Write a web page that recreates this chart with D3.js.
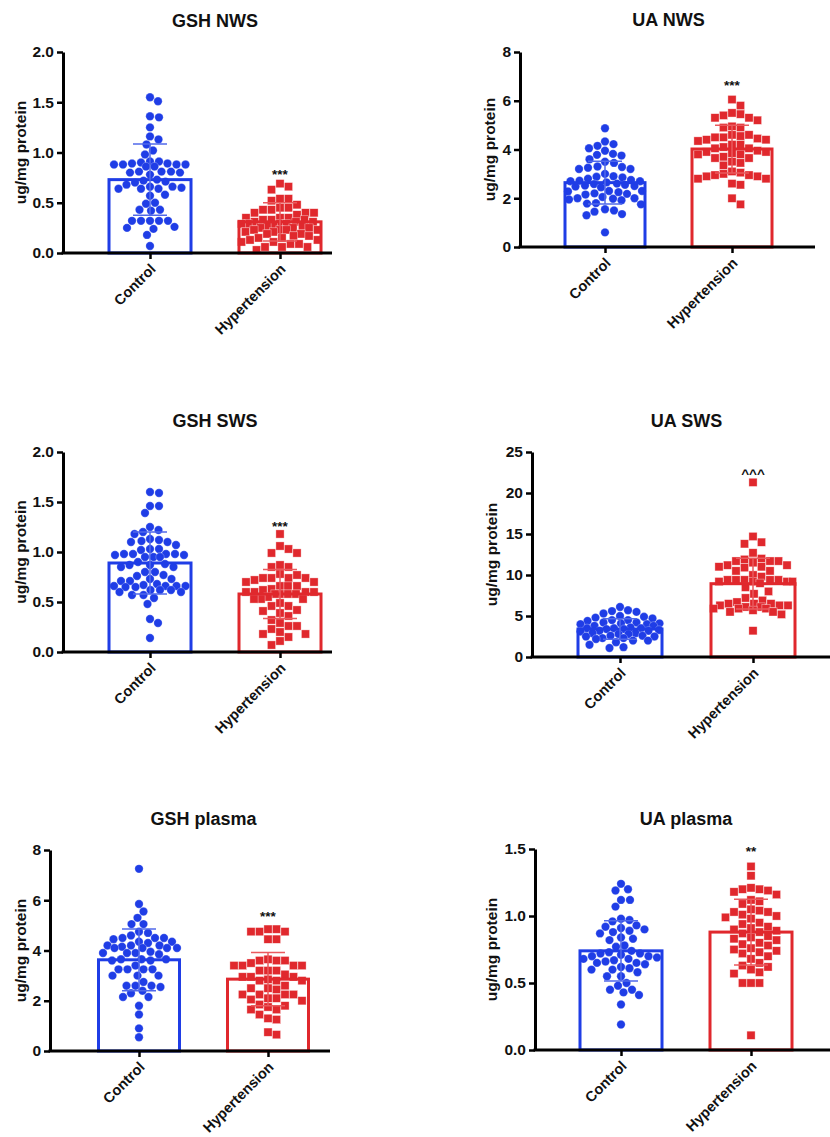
<!DOCTYPE html>
<html><head><meta charset="utf-8">
<script src="https://cdn.jsdelivr.net/npm/d3@7"></script>
<style>
body{margin:0;background:#fff}
svg{display:block}
text{font-family:"Liberation Sans", Arial, Helvetica, sans-serif;}
</style>
</head><body>
<svg id="chart" width="830" height="1137"></svg>
<script>
const categories = ["Control", "Hypertension"];
const titles = ["GSH NWS", "UA NWS", "GSH SWS", "UA SWS", "GSH plasma", "UA plasma"];
const yAxisLabel = "ug/mg protein";
const yTicks = [[0,0.5,1,1.5,2],[0,2,4,6,8],[0,0.5,1,1.5,2],[0,5,10,15,20,25],[0,2,4,6,8],[0,0.5,1,1.5]];
const tickDecimals = [1,0,1,0,0,1];
const means = [[0.73,0.31],[2.64,4.02],[0.89,0.58],[3.41,8.94],[3.63,2.86],[0.74,0.88]];
const sds = [[0.355,0.19],[0.88,0.98],[0.31,0.246],[1.26,3.1],[1.23,1.06],[0.225,0.245]];
const sigLabels = ["***","***","***","^^^","***","**"];
const sigValues = [0.81, 6.73, 1.29, 22.8, 5.49, 1.507];

const gshNwsControl = [1.55,1.51,1.36,1.35,1.25,1.16,1.13,1.08,1.02,0.98,0.91,0.91,0.90,0.89,0.89,0.88,0.88,0.88,0.88,0.86,0.86,0.81,0.81,0.81,0.80,0.80,0.78,0.73,0.72,0.71,0.70,0.68,0.66,0.66,0.65,0.64,0.64,0.64,0.58,0.57,0.50,0.49,0.43,0.43,0.42,0.32,0.32,0.32,0.32,0.32,0.26,0.25,0.24,0.18,0.07];
const gshNwsHyp = [0.69,0.66,0.63,0.54,0.54,0.52,0.48,0.45,0.45,0.43,0.43,0.40,0.40,0.40,0.38,0.35,0.35,0.35,0.33,0.33,0.33,0.31,0.31,0.31,0.29,0.29,0.29,0.29,0.27,0.27,0.27,0.25,0.25,0.25,0.23,0.23,0.23,0.23,0.21,0.21,0.19,0.19,0.17,0.17,0.15,0.15,0.13,0.13,0.11,0.11,0.09,0.09,0.06,0.06,0.06,0.03];
const uaNwsControl = [4.87,4.33,4.22,4.15,4.05,3.95,3.82,3.78,3.75,3.6,3.5,3.45,3.3,3.28,3.25,3.2,3.2,3.0,2.9,2.88,2.85,2.8,2.75,2.72,2.7,2.7,2.65,2.6,2.58,2.55,2.52,2.5,2.48,2.45,2.3,2.3,2.28,2.25,2.2,2.18,2.15,2.05,2.0,2.0,1.98,1.95,1.92,1.8,1.78,1.75,1.55,1.5,1.45,1.35,1.3,0.6];
const uaNwsHyp = [6.05,5.8,5.5,5.45,5.4,5.3,5.3,5.2,4.95,4.9,4.9,4.6,4.6,4.55,4.5,4.5,4.45,4.4,4.4,4.35,4.2,4.2,4.1,4.05,4.05,3.95,3.9,3.9,3.85,3.8,3.8,3.7,3.65,3.65,3.5,3.45,3.35,3.1,3.05,3.0,2.95,2.95,2.9,2.9,2.8,2.8,2.6,2.55,2.0,1.75];
const gshSwsControl = [1.60,1.59,1.46,1.46,1.39,1.25,1.22,1.20,1.18,1.13,1.12,1.11,1.10,1.10,1.07,1.03,1.03,1.02,0.98,0.98,0.97,0.97,0.98,0.98,0.95,0.95,0.95,0.90,0.88,0.87,0.87,0.85,0.85,0.80,0.80,0.77,0.76,0.73,0.73,0.71,0.71,0.68,0.67,0.66,0.66,0.66,0.66,0.65,0.65,0.62,0.62,0.62,0.60,0.60,0.57,0.57,0.54,0.48,0.33,0.29,0.14];
const gshSwsHyp = [1.18,1.06,1.03,0.99,0.99,0.87,0.85,0.85,0.78,0.77,0.74,0.74,0.74,0.74,0.72,0.70,0.70,0.66,0.66,0.66,0.63,0.62,0.60,0.60,0.60,0.60,0.58,0.58,0.58,0.58,0.55,0.53,0.53,0.53,0.49,0.46,0.46,0.42,0.41,0.39,0.36,0.32,0.29,0.26,0.26,0.23,0.20,0.18,0.18,0.15,0.11,0.07];
const uaSwsControl = [6.1,5.7,5.6,5.5,5.3,5.0,4.9,4.8,4.7,4.5,4.5,4.4,4.2,4.2,4.1,4.1,4.0,4.0,3.8,3.8,3.6,3.5,3.5,3.5,3.4,3.4,3.3,3.2,3.2,3.1,2.9,2.9,2.8,2.8,2.6,2.6,2.5,2.5,2.3,2.3,2.2,2.0,2.0,1.8,1.5,1.2,1.1];
const uaSwsHyp = [21.3,14.7,14.0,13.8,12.7,12.0,11.9,11.7,11.7,11.7,11.5,11.2,11.2,11.0,11.0,10.9,10.5,10.5,10.0,9.8,9.4,9.4,9.4,9.4,9.4,9.2,9.2,9.2,9.2,9.0,8.5,8.0,7.7,7.2,6.9,6.7,6.5,6.5,6.5,6.3,6.3,6.3,6.1,6.1,5.9,5.9,5.9,5.7,5.5,5.5,5.2,3.2];
const gshPlasmaControl = [7.25,5.85,5.55,5.3,5.05,5.05,4.75,4.7,4.6,4.5,4.5,4.5,4.45,4.35,4.35,4.3,4.2,4.2,4.2,4.15,4.1,4.1,4.1,4.1,3.95,3.9,3.9,3.9,3.85,3.65,3.65,3.65,3.6,3.6,3.4,3.25,3.25,3.25,3.25,3.0,3.0,3.0,2.75,2.6,2.6,2.6,2.55,2.4,2.3,2.15,2.15,1.8,1.45,0.9,0.55];
const gshPlasmaHyp = [4.85,4.85,4.75,4.75,4.75,4.45,4.45,3.65,3.6,3.6,3.6,3.5,3.4,3.4,3.4,3.4,3.2,3.2,3.2,3.05,2.95,2.95,2.95,2.85,2.8,2.8,2.8,2.6,2.5,2.5,2.45,2.25,2.25,2.25,2.25,2.1,2.1,2.05,2.0,1.85,1.8,1.75,1.65,1.65,1.45,1.3,1.25,0.75,0.65];
const uaPlasmaControl = [1.24,1.2,1.19,1.12,1.12,1.07,0.98,0.97,0.96,0.93,0.92,0.91,0.9,0.89,0.88,0.87,0.84,0.83,0.82,0.78,0.77,0.74,0.73,0.72,0.72,0.71,0.70,0.70,0.69,0.68,0.68,0.67,0.66,0.65,0.65,0.64,0.62,0.61,0.60,0.60,0.58,0.55,0.55,0.50,0.48,0.45,0.45,0.43,0.41,0.34,0.19];
const uaPlasmaHyp = [1.37,1.30,1.21,1.20,1.20,1.19,1.18,1.16,1.12,1.11,1.09,1.05,1.04,1.03,1.03,1.01,1.00,0.99,0.98,0.95,0.94,0.92,0.91,0.90,0.89,0.88,0.87,0.85,0.84,0.83,0.82,0.80,0.79,0.78,0.76,0.75,0.74,0.73,0.72,0.70,0.68,0.65,0.63,0.62,0.60,0.58,0.57,0.50,0.50,0.50,0.11];

const panelData = [
  [gshNwsControl, gshNwsHyp],
  [uaNwsControl, uaNwsHyp],
  [gshSwsControl, gshSwsHyp],
  [uaSwsControl, uaSwsHyp],
  [gshPlasmaControl, gshPlasmaHyp],
  [uaPlasmaControl, uaPlasmaHyp]
];

// layout (pixel geometry only)
const layout = [
  {ax:63,  xEnd:332, top:52,  bot:253,  c:[150,280], bw:85, titleY:27,  labOff:42},
  {ax:520, xEnd:815, top:52,  bot:247,  c:[605,732], bw:83, titleY:26,  labOff:30},
  {ax:63,  xEnd:332, top:452, bot:652,  c:[150,280], bw:85, titleY:427, labOff:42},
  {ax:532, xEnd:830, top:452, bot:657,  c:[620,753], bw:87, titleY:427, labOff:40},
  {ax:50,  xEnd:330, top:850, bot:1051, c:[139,268], bw:84, titleY:825, labOff:29},
  {ax:535, xEnd:830, top:849, bot:1050, c:[621,751], bw:85, titleY:825, labOff:43}
];
const colors = ["#1f3de6", "#e0282d"];
const errColors = ["#5068ea", "#ea5a5e"];
const R = 4.2, S = 8.2;

function swarm(values, y, square, maxHalf) {
  const pts = values.map(v => ({v, py: y(v), dx: 0})).sort((a, b) => a.py - b.py);
  const placed = [];
  const step = 0.5;
  const cands = [];
  for (let k = 0; ; k++) {
    const off = ((k + 1) >> 1) * step * (k % 2 ? 1 : -1);
    if (Math.abs(off) > maxHalf) break;
    cands.push(off);
  }
  const minD = square ? S + 0.2 : 2 * R + 0.2;
  pts.forEach(p => {
    let best = 0, bestPen = Infinity;
    for (const off of cands) {
      let pen = 0;
      for (const q of placed) {
        const ddx = Math.abs(off - q.dx), ddy = Math.abs(p.py - q.py);
        let o;
        if (square) {
          o = (ddx < minD && ddy < minD) ? Math.min(minD - ddx, minD - ddy) : 0;
        } else {
          const dist = Math.sqrt(ddx * ddx + ddy * ddy);
          o = dist < minD ? minD - dist : 0;
        }
        if (o > pen) pen = o;
        if (pen >= bestPen) break;
      }
      if (pen < bestPen - 1e-9) { bestPen = pen; best = off; }
      if (pen === 0) break;
    }
    p.dx = best;
    placed.push(p);
  });
  return pts;
}

const svg = d3.select("#chart");

layout.forEach((L, i) => {
  const g = svg.append("g");
  const ticks = yTicks[i];
  const y = d3.scaleLinear().domain([0, ticks[ticks.length - 1]]).range([L.bot, L.top]);
  const x = d3.scalePoint().domain(categories).range(L.c);

  const groups = categories.map((cat, j) => ({cat, j, mean: means[i][j], sd: sds[i][j], vals: panelData[i][j]}));

  // bar fill
  g.selectAll("rect.fill").data(groups).join("rect")
    .attr("x", d => x(d.cat) - L.bw / 2 + 1.5)
    .attr("y", d => y(d.mean))
    .attr("width", L.bw - 3)
    .attr("height", d => y(0) - y(d.mean))
    .attr("fill", "#fff");

  // points
  groups.forEach(d => {
    const pts = swarm(d.vals, y, d.j === 1, L.bw / 2 - 4);
    if (d.j === 0) {
      g.append("g").selectAll("circle").data(pts).join("circle")
        .attr("cx", p => x(d.cat) + p.dx)
        .attr("cy", p => p.py)
        .attr("r", R)
        .attr("fill", colors[0])
        .attr("stroke", "#fff").attr("stroke-opacity", 0.5).attr("stroke-width", 0.5);
    } else {
      g.append("g").selectAll("rect").data(pts).join("rect")
        .attr("x", p => x(d.cat) + p.dx - S / 2)
        .attr("y", p => p.py - S / 2)
        .attr("width", S).attr("height", S)
        .attr("fill", colors[1])
        .attr("stroke", "#fff").attr("stroke-opacity", 0.6).attr("stroke-width", 0.6);
    }
  });

  // bar outline
  g.selectAll("rect.outline").data(groups).join("rect")
    .attr("x", d => x(d.cat) - L.bw / 2 + 1.5)
    .attr("y", d => y(d.mean))
    .attr("width", L.bw - 3)
    .attr("height", d => y(0) - y(d.mean))
    .attr("fill", "none")
    .attr("stroke", d => colors[d.j])
    .attr("stroke-width", 3);

  // error bars
  groups.forEach(d => {
    const lo = Math.max(0, d.mean - d.sd), hi = d.mean + d.sd;
    const cx = x(d.cat);
    const eg = g.append("g").attr("stroke", errColors[d.j]).attr("stroke-width", 1.5).attr("fill", "none");
    eg.append("line").attr("x1", cx).attr("x2", cx).attr("y1", y(lo)).attr("y2", y(hi));
    eg.append("line").attr("x1", cx - 17).attr("x2", cx + 17).attr("y1", y(hi)).attr("y2", y(hi));
    eg.append("line").attr("x1", cx - 17).attr("x2", cx + 17).attr("y1", y(lo)).attr("y2", y(lo));
  });

  // y axis
  const fmt = d3.format("." + tickDecimals[i] + "f");
  const yAx = g.append("g").attr("transform", `translate(${L.ax},0)`)
    .call(d3.axisLeft(y).tickValues(ticks).tickFormat(fmt).tickSize(6).tickSizeOuter(0).tickPadding(3));
  yAx.select(".domain").attr("stroke", "#000").attr("stroke-width", 3);
  yAx.selectAll(".tick line").attr("stroke", "#000").attr("stroke-width", 2.5);
  yAx.selectAll(".tick text").attr("font-size", 15.5).attr("font-weight", "bold").attr("fill", "#111")
    .attr("font-family", '"Liberation Sans", Arial, sans-serif');

  // x axis
  const xAx = g.append("g").attr("transform", `translate(0,${L.bot})`)
    .call(d3.axisBottom(x).tickSize(6).tickSizeOuter(0));
  xAx.select(".domain").remove();
  xAx.selectAll(".tick line").attr("stroke", "#000").attr("stroke-width", 2.5);
  xAx.selectAll(".tick text")
    .attr("font-size", 14.5).attr("font-weight", "bold").attr("fill", "#111")
    .attr("font-family", '"Liberation Sans", Arial, sans-serif')
    .attr("text-anchor", "end")
    .attr("x", 0).attr("y", 0).attr("dy", 0)
    .attr("transform", "translate(6,17) rotate(-45)");
  g.append("line").attr("x1", L.ax - 1.5).attr("x2", L.xEnd).attr("y1", L.bot).attr("y2", L.bot)
    .attr("stroke", "#000").attr("stroke-width", 3);

  // y axis title
  g.append("text")
    .attr("transform", `translate(${L.ax - L.labOff},${(L.top + L.bot) / 2}) rotate(-90)`)
    .attr("text-anchor", "middle").attr("dy", "0.35em")
    .attr("font-size", 15.5).attr("font-weight", "bold").attr("fill", "#111")
    .text(yAxisLabel);

  // title
  g.append("text")
    .attr("x", (L.c[0] + L.c[1]) / 2).attr("y", L.titleY)
    .attr("text-anchor", "middle")
    .attr("font-size", 18).attr("font-weight", "bold").attr("fill", "#111")
    .text(titles[i]);

  // significance
  g.append("text")
    .attr("x", x(categories[1])).attr("y", y(sigValues[i]) + 7.5)
    .attr("text-anchor", "middle")
    .attr("font-size", 13.5).attr("font-weight", "bold").attr("fill", "#111")
    .text(sigLabels[i]);
});
</script>
</body></html>
